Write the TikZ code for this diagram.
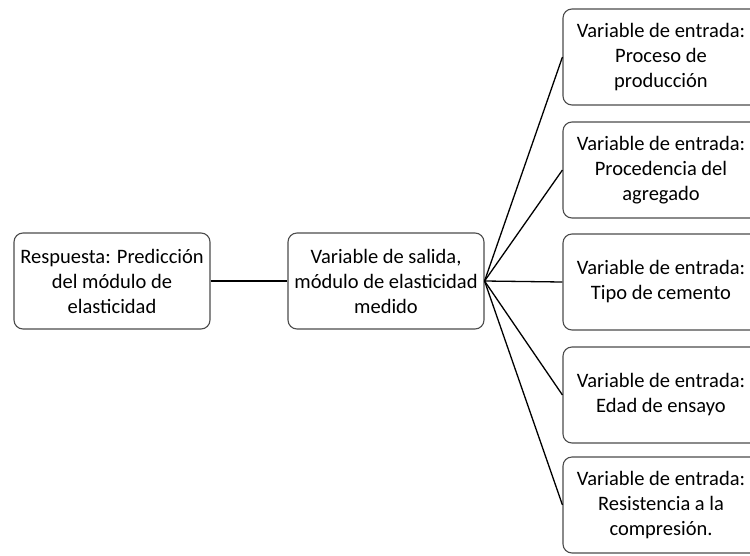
\documentclass[tikz,border=0pt]{standalone}
\usepackage{fontspec}
\setmainfont{Carlito}
\usetikzlibrary{positioning}
\tikzset{
  caja/.style={draw=black!70, line width=1.1pt, rounded corners=9pt, align=center,
    minimum width=196pt, minimum height=96pt, inner sep=0pt,
    font=\fontsize{20.5}{25}\selectfont},
  enlace/.style={draw=black, line width=1.3pt}
}

\begin{document}
\begin{tikzpicture}[x=1pt, y=-1pt]
			%%%%% START %%%%%
			\useasboundingbox (0,0) rectangle (750,555);
			
			\node[caja] (respuesta) at (112, 281) {Respuesta: Predicción\\del módulo de\\elasticidad};
			\node[caja] (salida) at (386, 281) {Variable de salida,\\módulo de elasticidad\\medido};
			
			\node[caja] (proceso) at (661, 57) {Variable de entrada:\\Proceso de\\producción};
			\node[caja] (procedencia) at (661, 170) {Variable de entrada:\\Procedencia del\\agregado};
			\node[caja] (cemento) at (661, 282) {Variable de entrada:\\Tipo de cemento};
			\node[caja] (edad) at (661, 395) {Variable de entrada:\\Edad de ensayo};
			\node[caja] (resistencia) at (661, 505) {Variable de entrada:\\Resistencia a la\\compresión.};
			
			\draw[enlace] (respuesta.east) -- (salida.west);
			
			\draw[enlace] (salida.east) -- (proceso.west);
			\draw[enlace] (salida.east) -- (procedencia.west);
			\draw[enlace] (salida.east) -- (cemento.west);
			\draw[enlace] (salida.east) -- (edad.west);
			\draw[enlace] (salida.east) -- (resistencia.west);
			
			%%%%% END %%%%%
\end{tikzpicture}
\end{document}
